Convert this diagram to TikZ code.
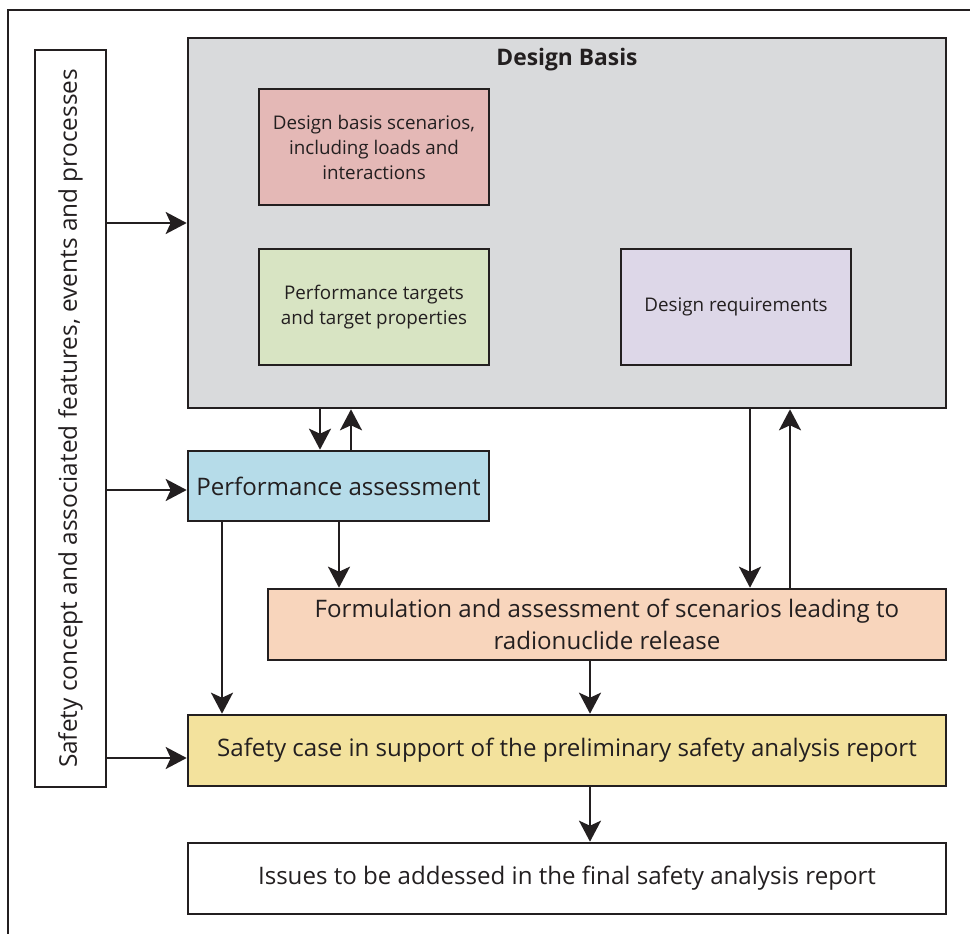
\documentclass[tikz,border=0pt]{standalone}
\usepackage{fontspec}
\setmainfont{Open Sans}
\usetikzlibrary{arrows.meta}
\definecolor{ink}{HTML}{231F20}
\definecolor{basisgray}{HTML}{D9DADC}
\definecolor{scenpink}{HTML}{E4B8B6}
\definecolor{targgreen}{HTML}{D8E4C3}
\definecolor{reqlav}{HTML}{DDD7E8}
\definecolor{perfblue}{HTML}{B6DCE9}
\definecolor{formpeach}{HTML}{F8D5BC}
\definecolor{caseyellow}{HTML}{F3E29D}
\tikzset{
  box/.style={draw=ink, line width=2.6pt, rectangle, inner sep=0pt, align=center, text=ink},
  arr/.style={draw=ink, line width=2.4pt, -{Stealth[length=21pt,width=22pt,inset=5pt]}},
  frameline/.style={draw=ink, line width=2.6pt},
  smalltxt/.style={font=\fontsize{18.8}{25}\selectfont},
  bigtxt/.style={font=\fontsize{24.1}{32}\selectfont},
  sidetxt/.style={font=\fontsize{24.4}{32}\selectfont},
}
\begin{document}
\begin{tikzpicture}[x=1pt, y=-1pt]
\useasboundingbox (0,0) rectangle (970,934);
\clip (0,0) rectangle (970,934);
% outer frame, open to the right and bottom
\draw[frameline] (975,10) -- (8,10) -- (8,940);

% left column
\node[box, rotate=90, minimum width=737, minimum height=71, sidetxt] (side) at (70.5,418.5)
  {Safety concept and associated features, events and processes};

% design basis group
\node[box, fill=basisgray, minimum width=758, minimum height=370] (db) at (567,223) {};
\node[font=\fontsize{22.8}{26}\selectfont\bfseries, text=ink] (dbtitle) at (567,60) {Design Basis};
\node[box, fill=scenpink, minimum width=230, minimum height=116, smalltxt] (scen) at (374,147)
  {Design basis scenarios,\\including loads and\\interactions};
\node[box, fill=targgreen, minimum width=230, minimum height=116, smalltxt] (targ) at (374,307)
  {Performance targets\\and target properties};
\node[box, fill=reqlav, minimum width=230, minimum height=116, smalltxt] (req) at (736,307)
  {Design requirements};

% assessment chain
\node[box, fill=perfblue, minimum width=301, minimum height=70, bigtxt] (perf) at (338.5,486)
  {Performance assessment};
\node[box, fill=formpeach, minimum width=678, minimum height=71, bigtxt] (form) at (607,624.5)
  {Formulation and assessment of scenarios leading to\\radionuclide release};
\node[box, fill=caseyellow, minimum width=758, minimum height=71, bigtxt] (case) at (567,750.5)
  {Safety case in support of the preliminary safety analysis report};
\node[box, fill=white, minimum width=758, minimum height=71, bigtxt] (issues) at (567,878.5)
  {Issues to be addessed in the final safety analysis report};

% column positions of the vertical connectors
\coordinate (xa) at (320,0);
\coordinate (xb) at (351,0);
\coordinate (xc) at (339,0);
\coordinate (xd) at (222,0);
\coordinate (xe) at (750,0);
\coordinate (xf) at (790,0);
\coordinate (xg) at (590,0);
\coordinate (ya) at (0,490);
\coordinate (yb) at (0,758);

% connectors
\draw[arr] (side.south |- db.west) -- (db.west);
\draw[arr] (side.south |- ya) -- (perf.west |- ya);
\draw[arr] (side.south |- yb) -- (case.west |- yb);
\draw[arr] (xa |- db.south) -- (xa |- perf.north);
\draw[arr] (xb |- perf.north) -- (xb |- db.south);
\draw[arr] (xc |- perf.south) -- (xc |- form.north);
\draw[arr] (xd |- perf.south) -- (xd |- case.north);
\draw[arr] (xe |- db.south) -- (xe |- form.north);
\draw[arr] (xf |- form.north) -- (xf |- db.south);
\draw[arr] (xg |- form.south) -- (xg |- case.north);
\draw[arr] (xg |- case.south) -- (xg |- issues.north);
\end{tikzpicture}
\end{document}
